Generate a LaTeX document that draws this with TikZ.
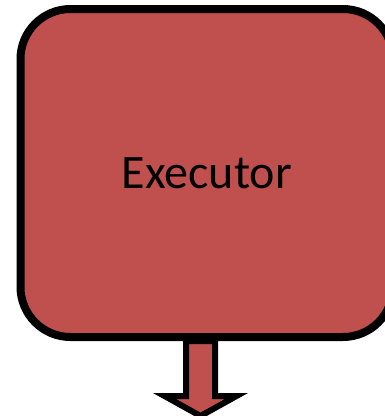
\documentclass[tikz,border=0pt]{standalone}
\usepackage{fontspec}
\setmainfont{Carlito}
\usetikzlibrary{calc}
\definecolor{execred}{RGB}{192,80,77}

\begin{document}
\begin{tikzpicture}[
    x=1pt, y=-1pt
]
\useasboundingbox (0,0) rectangle (385,416);

% Executor
\node[rectangle, draw, line width=8pt, rounded corners=50pt, fill=execred, minimum width=372.5pt, minimum height=328pt, inner sep=0pt, font=\fontsize{48}{58}\selectfont] (executor) at (206.75, 173) {Executor};

% Arrow
\coordinate (base) at ($(executor.south)+(-6.25,0)$);
\coordinate (tip) at ($(base)+(0,75)$);
\draw[line width=6pt, fill=execred, miter limit=10]
    ($(base)+(-14.5,0)$) -- ($(base)+(-14.5,55)$) -- ($(base)+(-36,55)$)
    -- (tip)
    -- ($(base)+(36,55)$) -- ($(base)+(14.5,55)$) -- ($(base)+(14.5,0)$) -- cycle;

\end{tikzpicture}
\end{document}
